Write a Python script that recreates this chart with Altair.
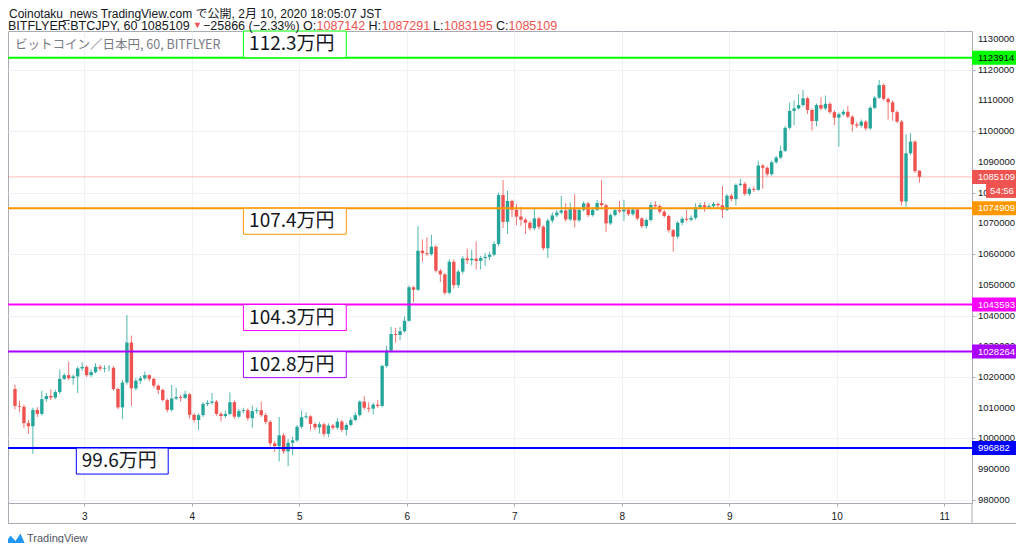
import altair as alt
import pandas as pd

# ---------------- data (prices in thousand JPY) ----------------
opens = [1016.1, 1010.6, 1010.3, 1005.0, 1004.0, 1009.3, 1008.0, 1012.8, 1013.8, 1013.3,
         1015.1, 1019.4, 1020.6, 1019.6, 1020.2, 1022.8, 1023.3, 1020.6, 1021.6, 1023.3,
         1022.7, 1022.9, 1023.0, 1016.1, 1010.1, 1018.2, 1031.2, 1016.3, 1018.8, 1019.6,
         1020.6, 1019.4, 1017.2, 1015.8, 1012.5, 1009.3, 1013.0, 1013.5, 1013.2, 1014.4,
         1007.7, 1006.0, 1007.6, 1011.2, 1011.6, 1012.0, 1008.0, 1007.3, 1008.0, 1011.8,
         1007.1, 1008.9, 1009.2, 1006.6, 1008.9, 1009.2, 1007.6, 1005.4, 998.4, 997.5,
         1001.0, 995.8, 998.6, 999.4, 1003.8, 1006.9, 1007.2, 1004.7, 1003.6, 1004.6,
         1001.5, 1004.2, 1003.5, 1005.5, 1002.8, 1004.4, 1006.0, 1007.6, 1012.0, 1010.0,
         1009.7, 1011.0, 1010.6, 1023.6, 1028.6, 1034.0, 1033.7, 1034.9, 1038.3, 1049.2,
         1048.4, 1061.1, 1060.3, 1060.0, 1062.4, 1054.6, 1053.4, 1047.4, 1057.5, 1049.9,
         1054.3, 1058.6, 1058.0, 1058.5, 1057.8, 1058.7, 1059.1, 1059.8, 1063.3, 1079.2,
         1070.5, 1077.3, 1074.4, 1072.2, 1071.2, 1070.2, 1068.4, 1071.6, 1068.9, 1061.9,
         1070.9, 1072.6, 1073.5, 1074.2, 1071.3, 1074.6, 1071.0, 1074.4, 1076.5, 1072.7,
         1074.4, 1076.6, 1075.9, 1070.0, 1072.7, 1074.3, 1073.9, 1074.5, 1073.0, 1074.5,
         1071.6, 1069.1, 1071.1, 1076.0, 1075.6, 1073.8, 1072.4, 1067.8, 1065.7, 1070.2,
         1071.5, 1071.2, 1071.8, 1075.2, 1075.9, 1075.2, 1075.6, 1076.3, 1075.9, 1074.4,
         1079.0, 1077.9, 1082.5, 1082.9, 1079.6, 1081.2, 1080.9, 1088.8, 1088.1, 1086.0,
         1089.9, 1091.4, 1093.6, 1101.1, 1106.6, 1107.4, 1108.5, 1110.7, 1106.9, 1103.3,
         1108.5, 1107.4, 1108.9, 1106.2, 1104.4, 1105.5, 1106.3, 1104.7, 1102.2, 1101.8,
         1103.1, 1100.9, 1107.6, 1110.9, 1115.0, 1110.5, 1109.4, 1106.2, 1103.1, 1077.1,
         1092.8, 1096.6, 1087.142]

closes = [1010.6, 1010.3, 1005.0, 1004.0, 1009.3, 1008.0, 1012.8, 1013.8, 1013.3, 1015.1,
          1019.4, 1020.6, 1019.6, 1020.2, 1022.8, 1023.3, 1020.6, 1021.6, 1023.3, 1022.7,
          1022.9, 1023.0, 1016.1, 1010.1, 1018.2, 1031.2, 1016.3, 1018.8, 1019.6, 1020.6,
          1019.4, 1017.2, 1015.8, 1012.5, 1009.3, 1013.0, 1013.5, 1013.2, 1014.4, 1007.7,
          1006.0, 1007.6, 1011.2, 1011.6, 1012.0, 1008.0, 1007.3, 1008.0, 1011.8, 1007.1,
          1008.9, 1009.2, 1006.6, 1008.9, 1009.2, 1007.6, 1005.4, 998.4, 997.5, 1001.0,
          995.8, 998.6, 999.4, 1003.8, 1006.9, 1007.2, 1004.7, 1003.6, 1004.6, 1001.5,
          1004.2, 1003.5, 1005.5, 1002.8, 1004.4, 1006.0, 1007.6, 1012.0, 1010.0, 1009.7,
          1011.0, 1010.6, 1023.6, 1028.6, 1034.0, 1033.7, 1034.9, 1038.3, 1049.2, 1048.4,
          1061.1, 1060.3, 1060.0, 1062.4, 1054.6, 1053.4, 1047.4, 1057.5, 1049.9, 1054.3,
          1058.6, 1058.0, 1058.5, 1057.8, 1058.7, 1059.1, 1059.8, 1063.3, 1079.2, 1070.5,
          1077.3, 1074.4, 1072.2, 1071.2, 1070.2, 1068.4, 1071.6, 1068.9, 1061.9, 1070.9,
          1072.6, 1073.5, 1074.2, 1071.3, 1074.6, 1071.0, 1074.4, 1076.5, 1072.7, 1074.4,
          1076.6, 1075.9, 1070.0, 1072.7, 1074.3, 1073.9, 1074.5, 1073.0, 1074.5, 1071.6,
          1069.1, 1071.1, 1076.0, 1075.6, 1073.8, 1072.4, 1067.8, 1065.7, 1070.2, 1071.5,
          1071.2, 1071.8, 1075.2, 1075.9, 1075.2, 1075.6, 1076.3, 1075.9, 1074.4, 1079.0,
          1077.9, 1082.5, 1082.9, 1079.6, 1081.2, 1080.9, 1088.8, 1088.1, 1086.0, 1089.9,
          1091.4, 1093.6, 1101.1, 1106.6, 1107.4, 1108.5, 1110.7, 1106.9, 1103.3, 1108.5,
          1107.4, 1108.9, 1106.2, 1104.4, 1105.5, 1106.3, 1104.7, 1102.2, 1101.8, 1103.1,
          1100.9, 1107.6, 1110.9, 1115.0, 1110.5, 1109.4, 1106.2, 1103.1, 1077.1, 1092.8,
          1096.6, 1087.0, 1085.109]

highs = [1017.5, 1012.3, 1011.0, 1006.0, 1010.0, 1010.2, 1015.5, 1014.8, 1016.0, 1015.8,
         1022.4, 1021.2, 1025.0, 1020.8, 1023.4, 1024.8, 1023.8, 1022.5, 1024.5, 1024.0,
         1023.8, 1023.9, 1023.5, 1016.6, 1019.0, 1040.2, 1033.5, 1019.6, 1020.3, 1021.8,
         1020.9, 1019.8, 1017.6, 1016.2, 1013.0, 1017.4, 1016.5, 1014.2, 1015.5, 1014.8,
         1008.2, 1008.2, 1011.8, 1012.4, 1014.8, 1012.5, 1008.6, 1009.0, 1015.0, 1012.4,
         1009.6, 1010.0, 1009.8, 1010.7, 1010.0, 1012.0, 1008.4, 1006.0, 999.2, 1007.0,
         1001.8, 999.8, 1000.6, 1004.4, 1009.1, 1008.5, 1007.6, 1005.2, 1005.4, 1005.2,
         1004.9, 1004.8, 1006.6, 1006.0, 1005.0, 1006.8, 1008.5, 1012.4, 1013.8, 1011.8,
         1011.6, 1012.5, 1024.0, 1030.2, 1036.3, 1036.0, 1036.3, 1039.7, 1049.8, 1049.6,
         1069.1, 1064.8, 1065.5, 1066.3, 1062.9, 1055.2, 1053.8, 1058.3, 1058.2, 1055.0,
         1059.3, 1061.8, 1061.4, 1064.1, 1059.4, 1060.3, 1060.8, 1064.2, 1080.0, 1084.1,
         1080.6, 1077.7, 1076.3, 1075.4, 1071.8, 1070.8, 1075.0, 1072.1, 1069.4, 1071.6,
         1073.6, 1074.3, 1078.9, 1076.6, 1076.8, 1079.5, 1075.0, 1077.2, 1077.0, 1075.0,
         1077.6, 1084.1, 1076.3, 1073.2, 1074.9, 1077.3, 1077.7, 1075.2, 1075.3, 1075.0,
         1072.0, 1071.6, 1076.8, 1077.2, 1076.2, 1074.4, 1072.8, 1068.2, 1070.8, 1072.2,
         1074.4, 1072.6, 1076.6, 1076.8, 1076.9, 1076.4, 1077.0, 1076.8, 1082.2, 1079.5,
         1079.6, 1083.0, 1084.5, 1083.5, 1081.8, 1082.0, 1090.4, 1089.3, 1088.5, 1090.4,
         1092.0, 1095.3, 1101.6, 1109.3, 1110.0, 1112.0, 1113.4, 1111.2, 1107.4, 1109.0,
         1111.0, 1111.6, 1109.4, 1106.8, 1106.1, 1107.0, 1108.2, 1105.2, 1103.0, 1103.8,
         1103.6, 1108.2, 1111.5, 1116.7, 1115.5, 1111.0, 1110.0, 1106.8, 1103.6, 1099.0,
         1099.3, 1097.0, 1087.291]

lows = [1009.5, 1008.5, 1003.4, 1001.5, 995.0, 1007.0, 1007.5, 1012.0, 1012.5, 1012.8,
        1014.5, 1019.0, 1019.0, 1017.5, 1014.8, 1022.0, 1020.0, 1020.0, 1021.2, 1022.0,
        1021.5, 1021.8, 1015.5, 1009.5, 1006.3, 1017.5, 1010.5, 1015.6, 1017.8, 1019.0,
        1018.6, 1016.5, 1014.4, 1012.0, 1008.5, 1008.8, 1012.5, 1012.0, 1012.8, 1006.5,
        1005.2, 1002.8, 1007.0, 1010.6, 1011.0, 1007.4, 1005.5, 1006.6, 1007.5, 1006.4,
        1006.6, 1008.2, 1005.8, 1003.5, 1008.0, 1007.0, 1004.6, 997.4, 995.6, 992.5,
        995.0, 991.0, 994.5, 998.8, 1003.2, 1006.3, 1002.6, 1002.8, 1001.6, 1000.6,
        1000.4, 1002.8, 1002.9, 1002.0, 1001.0, 1003.9, 1005.6, 1007.1, 1009.4, 1008.5,
        1007.8, 1010.0, 1010.2, 1023.0, 1028.0, 1031.2, 1032.0, 1034.5, 1038.0, 1044.3,
        1048.0, 1057.5, 1059.3, 1059.5, 1054.0, 1050.9, 1046.7, 1046.9, 1048.8, 1049.0,
        1053.6, 1056.8, 1056.3, 1055.0, 1055.0, 1056.2, 1058.0, 1059.3, 1062.6, 1068.5,
        1066.6, 1072.0, 1069.4, 1069.2, 1066.5, 1067.6, 1067.8, 1068.0, 1061.2, 1058.7,
        1070.1, 1072.0, 1073.0, 1070.6, 1070.8, 1068.7, 1070.4, 1073.9, 1072.1, 1072.2,
        1074.0, 1075.4, 1067.2, 1069.5, 1072.3, 1073.3, 1070.8, 1072.4, 1072.5, 1071.0,
        1068.5, 1068.3, 1070.6, 1074.6, 1073.2, 1071.8, 1067.0, 1060.8, 1065.0, 1069.4,
        1070.6, 1070.6, 1071.2, 1074.6, 1073.8, 1074.8, 1075.0, 1075.2, 1071.7, 1074.0,
        1077.2, 1075.8, 1082.0, 1079.0, 1078.9, 1080.2, 1080.6, 1081.3, 1085.3, 1085.5,
        1089.4, 1091.0, 1093.2, 1100.6, 1102.0, 1107.0, 1108.0, 1105.6, 1100.2, 1101.6,
        1106.8, 1106.8, 1105.6, 1102.0, 1095.0, 1105.0, 1104.2, 1099.8, 1101.0, 1101.2,
        1100.2, 1100.5, 1107.2, 1110.5, 1109.9, 1103.8, 1103.4, 1102.6, 1075.8, 1075.3,
        1092.3, 1086.4, 1083.195]

day_ticks = [3, 4, 5, 6, 7, 8, 9, 10, 11]
price_ticks = [980000, 990000, 1000000, 1010000, 1020000, 1030000, 1040000, 1050000,
               1060000, 1070000, 1080000, 1090000, 1100000, 1110000, 1120000, 1130000]

level_values = [1123914, 1074909, 1043593, 1028264, 996882]
level_labels = ["112.3万円", "107.4万円", "104.3万円", "102.8万円", "99.6万円"]
level_tags = ["1123914", "1074909", "1043593", "1028264", "996882"]
level_colors = ["#00ff00", "#ff9800", "#ff00ff", "#aa00ff", "#0000ff"]
level_tag_text = ["#000000", "#ffffff", "#ffffff", "#ffffff", "#ffffff"]
box_day_start = [4.48, 4.48, 4.48, 4.48, 2.925]
box_day_end = [5.437, 5.437, 5.437, 5.437, 3.78]
box_top = [1132600, 1074909, 1043593, 1028264, 996882]
box_bottom = [1123914, 1066450, 1035130, 1019800, 988420]

last_price = 1085109
last_tag = "1085109"
countdown = "54:56"

header_line1 = "Coinotaku_news TradingView.com で公開, 2月 10, 2020 18:05:07 JST"
header_parts = ["BITFLYER:BTCJPY, 60 1085109", "▼", "−25866 (−2.33%) O:", "1087142",
                "H:", "1087291", "L:", "1083195", "C:", "1085109"]
header_part_red = [False, True, False, True, False, True, False, True, False, True]
legend_title = "ビットコイン／日本円, 60, BITFLYER"
logo_text = "TradingView"

# ---------------- styling ----------------
UP, DOWN = "#26a69a", "#ef5350"
GRID = "#eef1f6"
FRAME = "#a9acb4"
TXT = "#131722"
F_LAT = "Liberation Sans, Noto Sans CJK JP, sans-serif"
F_CJK = "Noto Sans CJK JP, sans-serif"
W, H = 964, 472

n = len(closes)
candles = pd.DataFrame({
    "t": [2 + (8 + i + 0.5) / 24 for i in range(n)],
    "open": [v * 1000 for v in opens],
    "high": [v * 1000 for v in highs],
    "low": [v * 1000 for v in lows],
    "close": [v * 1000 for v in closes],
})
candles["dir"] = ["up" if c >= o else "down" for o, c in zip(candles["open"], candles["close"])]

levels = pd.DataFrame({
    "level": level_values, "label": level_labels, "tag": level_tags,
    "color": level_colors, "tcolor": level_tag_text,
    "x1": box_day_start, "x2": box_day_end, "top": box_top, "bottom": box_bottom,
})
levels["xm"] = (levels["x1"] + levels["x2"]) / 2
levels["ym"] = (levels["top"] + levels["bottom"]) / 2

ticks_df = pd.DataFrame({"p": price_ticks, "lab": [str(v) for v in price_ticks]})
last_df = pd.DataFrame({"price": [last_price], "tag": [last_tag], "cd": [countdown]})
one = pd.DataFrame({"a": [0]})

xscale = alt.Scale(domain=[2.3358, 11.213], nice=False, zero=False)
yscale = alt.Scale(domain=[979000, 1132600], nice=False, zero=False)

xaxis = alt.Axis(values=day_ticks, format="d", title=None, grid=True, gridColor=GRID,
                 domain=False, tickColor=FRAME, tickSize=3, labelColor=TXT,
                 labelFontSize=10, labelFont=F_LAT, labelPadding=5, labelFlush=False,
                 labelOverlap=False)
yaxis = alt.Axis(orient="right", values=price_ticks, title=None, grid=True,
                 gridColor=GRID, domain=False, tickColor=FRAME, tickSize=3,
                 labels=False)

dir_color = alt.Color("dir:N", scale=alt.Scale(domain=["up", "down"], range=[UP, DOWN]), legend=None)

wicks = alt.Chart(candles).mark_rule(strokeWidth=1, opacity=0.8).encode(
    x=alt.X("t:Q", scale=xscale, axis=xaxis),
    y=alt.Y("low:Q", scale=yscale, axis=yaxis),
    y2="high:Q",
    color=dir_color,
)
bodies = alt.Chart(candles).mark_bar(size=3.4).encode(
    x="t:Q", y="open:Q", y2="close:Q", color=dir_color,
)

price_labels = alt.Chart(ticks_df).mark_text(align="left", baseline="middle", fontSize=9.5,
                                             font=F_LAT, color=TXT).encode(
    x=alt.value(970), y="p:Q", text="lab:N")

last_line = alt.Chart(last_df).mark_rule(color=DOWN, opacity=0.4, strokeWidth=1).encode(y="price:Q")

level_lines = alt.Chart(levels).mark_rule(strokeWidth=2).encode(
    y="level:Q", color=alt.Color("color:N", scale=None))

boxes = alt.Chart(levels).mark_rect(fill="white", strokeWidth=1).encode(
    x="x1:Q", x2="x2:Q", y="top:Q", y2="bottom:Q", stroke=alt.Color("color:N", scale=None))
box_text = alt.Chart(levels).mark_text(fontSize=19, font=F_CJK, color=TXT, dx=-3).encode(
    x="xm:Q", y="ym:Q", text="label:N")

tags = alt.Chart(levels).mark_rect(yOffset=-7, y2Offset=7).encode(
    x=alt.value(964), x2=alt.value(1008), y="level:Q", y2="level:Q",
    fill=alt.Color("color:N", scale=None))
tag_text = alt.Chart(levels).mark_text(align="left", baseline="middle", fontSize=9.5, font=F_LAT).encode(
    x=alt.value(970), y="level:Q", text="tag:N", color=alt.Color("tcolor:N", scale=None))

last_tag_rect = alt.Chart(last_df).mark_rect(yOffset=-7, y2Offset=7, color=DOWN).encode(
    x=alt.value(964), x2=alt.value(1008), y="price:Q", y2="price:Q")
last_tag_text = alt.Chart(last_df).mark_text(align="left", baseline="middle", fontSize=9.5,
                                             font=F_LAT, color="white").encode(
    x=alt.value(970), y="price:Q", text="tag:N")
cd_rect = alt.Chart(last_df).mark_rect(yOffset=7, y2Offset=21, color=DOWN).encode(
    x=alt.value(978), x2=alt.value(1008), y="price:Q", y2="price:Q")
cd_text = alt.Chart(last_df).mark_text(align="center", baseline="middle", fontSize=9.5,
                                       font=F_LAT, color="white", dy=14).encode(
    x=alt.value(994), y="price:Q", text="cd:N")

frame_bottom = alt.Chart(one).mark_rule(color=FRAME, strokeWidth=1).encode(
    x=alt.value(0), x2=alt.value(1008), y=alt.value(492.5))
frame_left = alt.Chart(one).mark_rule(color=FRAME, strokeWidth=1).encode(
    x=alt.value(0.5), y=alt.value(472), y2=alt.value(492.5))
frame_right = alt.Chart(one).mark_rule(color=FRAME, strokeWidth=1).encode(
    x=alt.value(964), y=alt.value(472), y2=alt.value(492.5))

head1 = alt.Chart(one).mark_text(align="left", baseline="alphabetic", fontSize=12,
                                 font=F_LAT, color=TXT).encode(
    x=alt.value(1), y=alt.value(-13), text=alt.value(header_line1))

part_x = [0, 185, 195, 308.5, 360.5, 373.5, 425, 436, 488, 500.5]
head2_layers = []
for txt, red, px in zip(header_parts, header_part_red, part_x):
    head2_layers.append(
        alt.Chart(one).mark_text(align="left", baseline="alphabetic",
                                 fontSize=9 if txt == "▼" else 12.5,
                                 font=F_LAT, color=DOWN if red else TXT).encode(
            x=alt.value(px), y=alt.value(-1.5 if txt != "▼" else -3.5), text=alt.value(txt)))

legend = alt.Chart(one).mark_text(align="left", baseline="middle", fontSize=12.5,
                                  font=F_CJK, color="#787b86").encode(
    x=alt.value(7), y=alt.value(14), text=alt.value(legend_title))

logo_icon = alt.Chart(one).mark_point(
    shape="M-1,0.5 L-0.45,-0.35 L0.05,0.2 L0.55,-0.55 L1,0.5 Z",
    filled=True, size=400, color="#2196f3", opacity=1).encode(
    x=alt.value(7), y=alt.value(508))
logo = alt.Chart(one).mark_text(align="left", baseline="middle", fontSize=11,
                                font=F_LAT, color="#50535e").encode(
    x=alt.value(19), y=alt.value(508), text=alt.value(logo_text))

chart = alt.layer(
    wicks, bodies, price_labels, last_line, level_lines, boxes, box_text,
    tags, tag_text, last_tag_rect, last_tag_text, cd_rect, cd_text,
    frame_bottom, frame_left, frame_right, head1, *head2_layers, legend, logo_icon, logo,
).properties(
    width=W, height=H,
    padding={"left": 0, "top": 23, "right": 44, "bottom": 40},
    autosize=alt.AutoSizeParams(type="none"),
    background="white",
).configure_view(stroke=FRAME, strokeWidth=1)

chart.save("out.html", embed_options={"renderer": "svg", "actions": False})
